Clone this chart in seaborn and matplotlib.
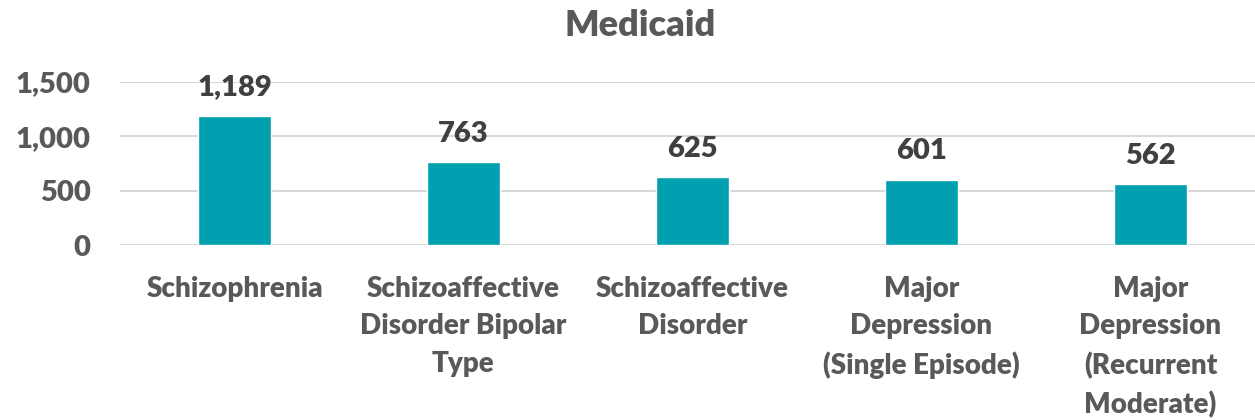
import matplotlib
matplotlib.use("Agg")
import matplotlib.pyplot as plt
import seaborn as sns
import pandas as pd

categories = [
    "Schizophrenia",
    "Schizoaffective\nDisorder Bipolar\nType",
    "Schizoaffective\nDisorder",
    "Major\nDepression\n(Single Episode)",
    "Major\nDepression\n(Recurrent\nModerate)",
]
values = [1189, 763, 625, 601, 562]
y_ticks = [0, 500, 1000, 1500]

sns.set_theme(style="white")
plt.rcParams["font.family"] = ["Lato", "DejaVu Sans"]

df = pd.DataFrame({"category": categories, "value": values})

W, H = 1255, 420
fig = plt.figure(figsize=(W / 100, H / 100), dpi=100)
# plot area: x from 120 px, 229 px per category; y from 245 px (zero) to 82 px (1,500)
ax = fig.add_axes([120 / W, (H - 245) / H, 5 * 229 / W, 163 / H])

sns.barplot(data=df, x="category", y="value", color="#00A0B0", width=0.315,
            saturation=1, ax=ax, zorder=3)

ax.set_ylim(0, 1500)
ax.set_xlim(-0.5, 4.5)
ax.set_yticks(y_ticks)
ax.set_yticklabels([f"{v:,}" for v in y_ticks], fontsize=21, fontweight="heavy",
                   color="#595959")
ax.tick_params(axis="y", length=0, pad=21)
ax.tick_params(axis="x", length=0, pad=22)
for lbl in ax.get_xticklabels():
    lbl.set_fontsize(20)
    lbl.set_fontweight("heavy")
    lbl.set_color("#595959")
    lbl.set_verticalalignment("top")
    lbl.set_linespacing(1.55)
ax.grid(axis="y", color="#D9D9D9", linewidth=1.5, zorder=0)
ax.set_xlabel("")
ax.set_ylabel("")
for s in ax.spines.values():
    s.set_visible(False)

for i, v in enumerate(values):
    ax.annotate(f"{v:,}", (i, v), xytext=(0, 11), textcoords="offset points",
                ha="center", va="bottom", fontsize=21, fontweight="heavy",
                color="#404040")

fig.text(640 / W, 1 - 25 / H, "Medicaid", ha="center", va="center",
         fontsize=26, fontweight="heavy", color="#595959")

fig.savefig("out.png", dpi=100, facecolor="white")
